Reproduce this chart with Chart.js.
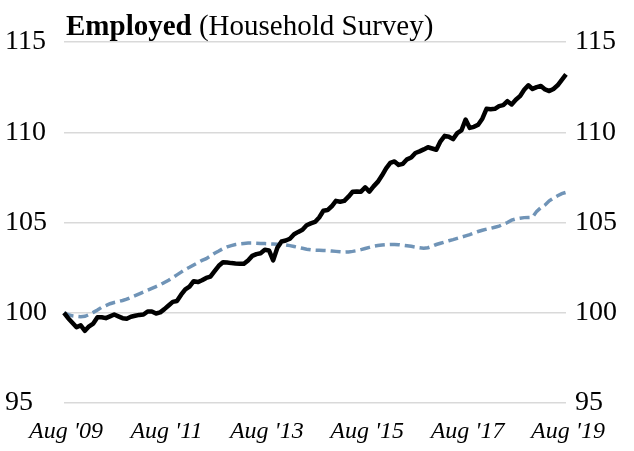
<!DOCTYPE html>
<html>
<head>
<meta charset="utf-8">
<script src="https://cdn.jsdelivr.net/npm/chart.js@4/dist/chart.umd.min.js"></script>
<style>
  html, body { margin: 0; padding: 0; background: #fff; }
  #wrap { position: relative; width: 634px; height: 451px; }
  #title {
    position: absolute; left: 66px; top: 11px;
    font-family: "Liberation Serif", serif; font-size: 29px; line-height: 29px;
    color: #000; white-space: nowrap;
  }
</style>
</head>
<body>
<div id="wrap">
  <canvas id="chart" width="634" height="451"></canvas>
  <div id="title"><b>Employed</b> (Household Survey)</div>
</div>
<script>
// monthly, Aug 2009 .. Aug 2019, index Aug 2009 = 100
const tickLabels = ["Aug '09", "Aug '11", "Aug '13", "Aug '15", "Aug '17", "Aug '19"];

const employed = [
  100.0, 99.7, 99.45, 99.2, 99.3, 99.0, 99.25, 99.4, 99.75, 99.75,
  99.7, 99.8, 99.9, 99.8, 99.7, 99.67, 99.78, 99.83, 99.88, 99.9,
  100.07, 100.07, 99.96, 100.02, 100.2, 100.4, 100.6, 100.65, 101.0, 101.3,
  101.45, 101.75, 101.7, 101.8, 101.93, 102.0, 102.3, 102.6, 102.8, 102.78,
  102.75, 102.73, 102.72, 102.71, 102.9, 103.15, 103.25, 103.3, 103.49, 103.45,
  102.9, 103.6, 103.95, 104.0, 104.1, 104.35, 104.48, 104.6, 104.85, 104.95,
  105.03, 105.28, 105.65, 105.69, 105.9, 106.2, 106.15, 106.2, 106.43, 106.7,
  106.72, 106.71, 106.95, 106.71, 107.0, 107.25, 107.6, 108.0, 108.3, 108.38,
  108.19, 108.25, 108.5, 108.6, 108.85, 108.94, 109.05, 109.17, 109.1, 109.03,
  109.5, 109.8, 109.75, 109.62, 109.95, 110.1, 110.7, 110.24, 110.3, 110.42,
  110.75, 111.3, 111.28, 111.3, 111.45, 111.5, 111.72, 111.54, 111.8, 112.0,
  112.35, 112.6, 112.4, 112.5, 112.56, 112.37, 112.28, 112.4, 112.6, 112.9,
  113.2
];

const trend = [
  100.0, 99.9, 99.83, 99.8, 99.78, 99.8, 99.9, 100.02, 100.15, 100.3,
  100.4, 100.5, 100.57, 100.62, 100.68, 100.75, 100.85, 100.95, 101.05, 101.15,
  101.25, 101.35, 101.45, 101.55, 101.68, 101.8, 101.95, 102.1, 102.25, 102.4,
  102.52, 102.65, 102.78, 102.9, 103.0, 103.15, 103.3, 103.42, 103.55, 103.65,
  103.72, 103.78, 103.82, 103.84, 103.86, 103.86, 103.85, 103.84, 103.83, 103.82,
  103.81, 103.8, 103.79, 103.76, 103.72, 103.67, 103.62, 103.57, 103.52, 103.49,
  103.47, 103.46, 103.45, 103.44, 103.42, 103.4, 103.38, 103.36, 103.37, 103.4,
  103.44, 103.5, 103.56, 103.62, 103.68, 103.72, 103.75, 103.77, 103.78, 103.78,
  103.77, 103.74, 103.71, 103.68, 103.64, 103.6, 103.58, 103.6, 103.68, 103.78,
  103.85, 103.92, 103.99, 104.05, 104.12, 104.19, 104.26, 104.33, 104.42, 104.5,
  104.57, 104.63, 104.68, 104.74, 104.8, 104.9, 105.0, 105.13, 105.2, 105.24,
  105.27, 105.28, 105.29, 105.62, 105.82, 105.97, 106.2, 106.35, 106.48, 106.6,
  106.67
];

const months = employed.map((v, i) => i);

const tickFont = { family: "Liberation Serif", size: 28 };

new Chart(document.getElementById('chart'), {
  type: 'line',
  data: {
    labels: months,
    datasets: [
      {
        data: employed,
        borderColor: '#000000',
        borderWidth: 4.5,
        pointRadius: 0,
        tension: 0,
        borderJoinStyle: 'round',
        yAxisID: 'y'
      },
      {
        data: trend,
        borderColor: '#7094b7',
        borderWidth: 3.5,
        borderDash: [10, 5],
        pointRadius: 0,
        tension: 0,
        yAxisID: 'y'
      }
    ]
  },
  options: {
    responsive: false,
    animation: false,
    devicePixelRatio: 1,
    layout: { padding: { left: 5, top: 42, right: 0, bottom: 0 } },
    plugins: { legend: { display: false }, tooltip: { enabled: false } },
    scales: {
      x: {
        type: 'category',
        offset: false,
        grid: { display: false },
        border: { display: false },
        afterFit: function(scale) { scale.height = 48; },
        ticks: {
          autoSkip: false,
          maxRotation: 0,
          padding: 6,
          labelOffset: 2,
          color: '#000',
          font: { family: "Liberation Serif", size: 24, style: 'italic' },
          callback: function(val, idx) {
            return idx % 24 === 0 ? tickLabels[idx / 24] : null;
          }
        }
      },
      y: {
        position: 'left',
        min: 95, max: 115,
        afterFit: function(scale) { scale.width = 59; },
        grid: { color: '#d9d9d9', lineWidth: 1.5, drawTicks: false },
        border: { display: false },
        ticks: { stepSize: 5, color: '#000', font: tickFont, crossAlign: 'far', padding: 0 }
      },
      y2: {
        position: 'right',
        min: 95, max: 115,
        afterFit: function(scale) { scale.width = 68; },
        grid: { display: false, drawTicks: false },
        border: { display: false },
        ticks: { stepSize: 5, color: '#000', font: tickFont, padding: 9 }
      }
    }
  }
});
</script>
</body>
</html>
